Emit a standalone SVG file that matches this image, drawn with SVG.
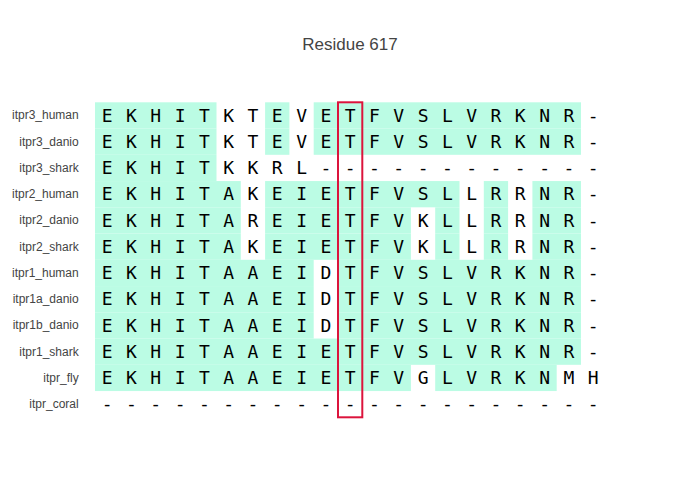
<svg xmlns="http://www.w3.org/2000/svg" width="700" height="500" viewBox="0 0 700 500">
<style>
.g{fill:#bbfce4}
.aa{font-family:"DejaVu Sans Mono",monospace;font-size:18px;fill:#000;text-anchor:middle}
.lbl{font-family:"Liberation Sans",Arial,sans-serif;font-size:12px;fill:#444;text-anchor:end}
.title{font-family:"Liberation Sans",Arial,sans-serif;font-size:17px;fill:#444;text-anchor:middle}
</style>
<rect width="700" height="500" fill="#fff"/>
<text class="title" x="350" y="50">Residue 617</text>
<g id="cells">
<rect class="g" x="95" y="102.3" width="121.5" height="26.25"/>
<rect class="g" x="265.1" y="102.3" width="24.3" height="26.25"/>
<rect class="g" x="313.7" y="102.3" width="267.3" height="26.25"/>
<rect class="g" x="95" y="128.55" width="121.5" height="26.25"/>
<rect class="g" x="265.1" y="128.55" width="24.3" height="26.25"/>
<rect class="g" x="313.7" y="128.55" width="267.3" height="26.25"/>
<rect class="g" x="95" y="154.8" width="121.5" height="26.25"/>
<rect class="g" x="95" y="181.05" width="145.8" height="26.25"/>
<rect class="g" x="265.1" y="181.05" width="194.4" height="26.25"/>
<rect class="g" x="483.8" y="181.05" width="24.3" height="26.25"/>
<rect class="g" x="532.4" y="181.05" width="48.6" height="26.25"/>
<rect class="g" x="95" y="207.3" width="145.8" height="26.25"/>
<rect class="g" x="265.1" y="207.3" width="145.8" height="26.25"/>
<rect class="g" x="435.2" y="207.3" width="24.3" height="26.25"/>
<rect class="g" x="483.8" y="207.3" width="24.3" height="26.25"/>
<rect class="g" x="532.4" y="207.3" width="48.6" height="26.25"/>
<rect class="g" x="95" y="233.55" width="145.8" height="26.25"/>
<rect class="g" x="265.1" y="233.55" width="145.8" height="26.25"/>
<rect class="g" x="435.2" y="233.55" width="24.3" height="26.25"/>
<rect class="g" x="483.8" y="233.55" width="24.3" height="26.25"/>
<rect class="g" x="532.4" y="233.55" width="48.6" height="26.25"/>
<rect class="g" x="95" y="259.8" width="218.7" height="26.25"/>
<rect class="g" x="338" y="259.8" width="243" height="26.25"/>
<rect class="g" x="95" y="286.05" width="218.7" height="26.25"/>
<rect class="g" x="338" y="286.05" width="243" height="26.25"/>
<rect class="g" x="95" y="312.3" width="218.7" height="26.25"/>
<rect class="g" x="338" y="312.3" width="243" height="26.25"/>
<rect class="g" x="95" y="338.55" width="486" height="26.25"/>
<rect class="g" x="95" y="364.8" width="315.9" height="26.25"/>
<rect class="g" x="435.2" y="364.8" width="121.5" height="26.25"/>
</g>
<g id="labels">
<text class="lbl" x="78.7" y="119.4">itpr3_human</text>
<text class="lbl" x="78.7" y="145.7">itpr3_danio</text>
<text class="lbl" x="78.7" y="171.9">itpr3_shark</text>
<text class="lbl" x="78.7" y="198.2">itpr2_human</text>
<text class="lbl" x="78.7" y="224.4">itpr2_danio</text>
<text class="lbl" x="78.7" y="250.7">itpr2_shark</text>
<text class="lbl" x="78.7" y="276.9">itpr1_human</text>
<text class="lbl" x="78.7" y="303.2">itpr1a_danio</text>
<text class="lbl" x="78.7" y="329.4">itpr1b_danio</text>
<text class="lbl" x="78.7" y="355.7">itpr1_shark</text>
<text class="lbl" x="78.7" y="381.9">itpr_fly</text>
<text class="lbl" x="78.7" y="408.2">itpr_coral</text>
</g>
<g id="sequences">
<text class="aa" x="107.15 131.45 155.75 180.05 204.35 228.65 252.95 277.25 301.55 325.85 350.15 374.45 398.75 423.05 447.35 471.65 495.95 520.25 544.55 568.85 593.15" y="121.7">EKHITKTEVETFVSLVRKNR-</text>
<text class="aa" x="107.15 131.45 155.75 180.05 204.35 228.65 252.95 277.25 301.55 325.85 350.15 374.45 398.75 423.05 447.35 471.65 495.95 520.25 544.55 568.85 593.15" y="147.95">EKHITKTEVETFVSLVRKNR-</text>
<text class="aa" x="107.15 131.45 155.75 180.05 204.35 228.65 252.95 277.25 301.55 325.85 350.15 374.45 398.75 423.05 447.35 471.65 495.95 520.25 544.55 568.85 593.15" y="174.2">EKHITKKRL------------</text>
<text class="aa" x="107.15 131.45 155.75 180.05 204.35 228.65 252.95 277.25 301.55 325.85 350.15 374.45 398.75 423.05 447.35 471.65 495.95 520.25 544.55 568.85 593.15" y="200.45">EKHITAKEIETFVSLLRRNR-</text>
<text class="aa" x="107.15 131.45 155.75 180.05 204.35 228.65 252.95 277.25 301.55 325.85 350.15 374.45 398.75 423.05 447.35 471.65 495.95 520.25 544.55 568.85 593.15" y="226.7">EKHITAREIETFVKLLRRNR-</text>
<text class="aa" x="107.15 131.45 155.75 180.05 204.35 228.65 252.95 277.25 301.55 325.85 350.15 374.45 398.75 423.05 447.35 471.65 495.95 520.25 544.55 568.85 593.15" y="252.95">EKHITAKEIETFVKLLRRNR-</text>
<text class="aa" x="107.15 131.45 155.75 180.05 204.35 228.65 252.95 277.25 301.55 325.85 350.15 374.45 398.75 423.05 447.35 471.65 495.95 520.25 544.55 568.85 593.15" y="279.2">EKHITAAEIDTFVSLVRKNR-</text>
<text class="aa" x="107.15 131.45 155.75 180.05 204.35 228.65 252.95 277.25 301.55 325.85 350.15 374.45 398.75 423.05 447.35 471.65 495.95 520.25 544.55 568.85 593.15" y="305.45">EKHITAAEIDTFVSLVRKNR-</text>
<text class="aa" x="107.15 131.45 155.75 180.05 204.35 228.65 252.95 277.25 301.55 325.85 350.15 374.45 398.75 423.05 447.35 471.65 495.95 520.25 544.55 568.85 593.15" y="331.7">EKHITAAEIDTFVSLVRKNR-</text>
<text class="aa" x="107.15 131.45 155.75 180.05 204.35 228.65 252.95 277.25 301.55 325.85 350.15 374.45 398.75 423.05 447.35 471.65 495.95 520.25 544.55 568.85 593.15" y="357.95">EKHITAAEIETFVSLVRKNR-</text>
<text class="aa" x="107.15 131.45 155.75 180.05 204.35 228.65 252.95 277.25 301.55 325.85 350.15 374.45 398.75 423.05 447.35 471.65 495.95 520.25 544.55 568.85 593.15" y="384.2">EKHITAAEIETFVGLVRKNMH</text>
<text class="aa" x="107.15 131.45 155.75 180.05 204.35 228.65 252.95 277.25 301.55 325.85 350.15 374.45 398.75 423.05 447.35 471.65 495.95 520.25 544.55 568.85 593.15" y="410.45">---------------------</text>
</g>
<g id="highlight">
<rect x="338" y="102.3" width="24.3" height="315" fill="none" stroke="#dc143c" stroke-width="2"/>
</g>
</svg>
